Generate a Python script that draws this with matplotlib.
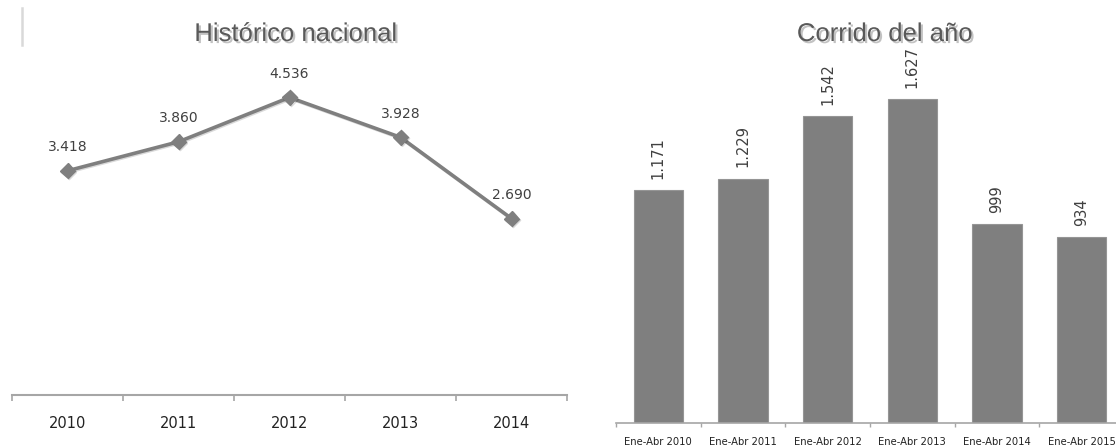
import numpy as np
import matplotlib.pyplot as plt
import matplotlib.patheffects as pe
from matplotlib.lines import Line2D

# Datos
anios = ['2010', '2011', '2012', '2013', '2014']
historico = [3418, 3860, 4536, 3928, 2690]

periodos = ['Ene-Abr 2010', 'Ene-Abr 2011', 'Ene-Abr 2012',
            'Ene-Abr 2013', 'Ene-Abr 2014', 'Ene-Abr 2015']
corrido = [1171, 1229, 1542, 1627, 999, 934]


def miles(v):
    # separador de miles con punto
    return f"{v:,}".replace(',', '.')


W, H = 1116, 448
fig = plt.figure(figsize=(W / 100, H / 100), dpi=100)

gris = '#7f7f7f'
eje = '#a6a6a6'
texto = '#404040'
titulo_fx = [pe.SimplePatchShadow(offset=(1.5, -1.5), shadow_rgbFace='#9a9a9a', alpha=0.6),
             pe.Normal()]

# --- Histórico nacional (línea) ---
ax1 = fig.add_axes([12 / W, 53 / H, 555 / W, 328 / H])
x1 = np.arange(len(anios))
ax1.plot(x1, historico, color=gris, lw=2.6, marker='D', ms=7.5,
         path_effects=[pe.SimpleLineShadow(offset=(0.8, -0.8), alpha=0.15), pe.Normal()])
for xi, v in zip(x1, historico):
    ax1.annotate(miles(v), (xi, v), xytext=(0, 17), textcoords='offset points',
                 ha='center', va='center', fontsize=10, color=texto)
ax1.set_xlim(-0.5, len(anios) - 0.5)
ax1.set_ylim(0, 5000)
ax1.set_xticks(x1)
ax1.set_xticklabels(anios, fontsize=10.5, color='#222222')
ax1.set_xticks(np.arange(-0.5, len(anios)), minor=True)
ax1.tick_params(axis='x', which='major', length=0, pad=15)
ax1.tick_params(axis='x', which='minor', length=4, width=1.2, color=eje, direction='out')
ax1.set_yticks([])
for s in ['top', 'right', 'left']:
    ax1.spines[s].set_visible(False)
ax1.spines['bottom'].set_color(eje)
ax1.spines['bottom'].set_linewidth(1.5)
ax1.patch.set_alpha(0)

# --- Corrido del año (barras) ---
ax2 = fig.add_axes([616 / W, 25 / H, 508 / W, 358 / H])
x2 = np.arange(len(periodos))
ax2.bar(x2, corrido, width=0.58, color=gris, edgecolor='#959595', linewidth=0.8)
for xi, v in zip(x2, corrido):
    ax2.annotate(miles(v), (xi, v), xytext=(0, 8), textcoords='offset points',
                 ha='center', va='bottom', rotation=90, fontsize=10.5, color=texto)
ax2.set_xlim(-0.5, len(periodos) - 0.5)
ax2.set_ylim(0, 1800)
ax2.set_xticks(x2)
ax2.set_xticklabels(periodos, fontsize=7.2, color='#222222')
ax2.set_xticks(np.arange(-0.5, len(periodos)), minor=True)
ax2.tick_params(axis='x', which='major', length=0, pad=10)
ax2.tick_params(axis='x', which='minor', length=3, width=1, color=eje, direction='out')
ax2.set_yticks([])
for s in ['top', 'right', 'left']:
    ax2.spines[s].set_visible(False)
ax2.spines['bottom'].set_color(eje)
ax2.spines['bottom'].set_linewidth(1.2)
ax2.patch.set_alpha(0)

# Títulos
for cx, t in [(296, 'Histórico nacional'), (885, 'Corrido del año')]:
    fig.text(cx / W, 1 - 34 / H, t, ha='center', va='center', fontsize=18.5,
             family=['Liberation Sans', 'DejaVu Sans'],
             color='#595959', path_effects=titulo_fx)

# Línea decorativa arriba a la izquierda
fig.add_artist(Line2D([22 / W, 22 / W], [1 - 8 / H, 1 - 45 / H],
                      color='#d9d9d9', lw=1.8, transform=fig.transFigure))

fig.savefig('out.png', dpi=100)
